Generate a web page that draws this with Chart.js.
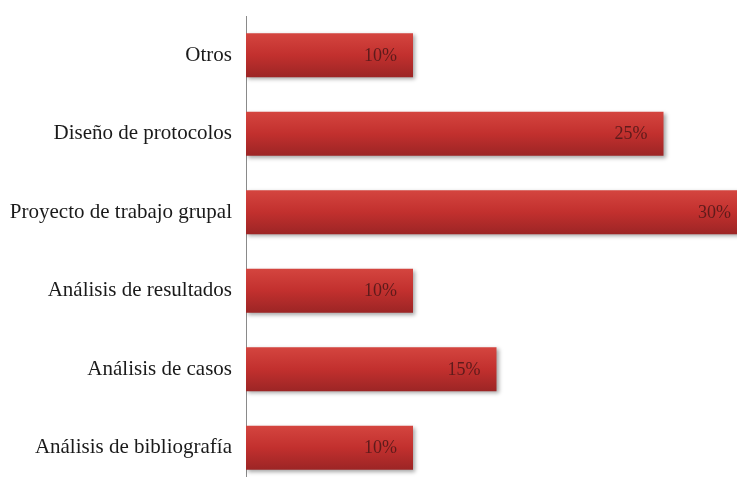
<!DOCTYPE html>
<html>
<head>
<meta charset="utf-8">
<script src="https://cdn.jsdelivr.net/npm/chart.js@4.4.1/dist/chart.umd.min.js"></script>
<style>
  html, body { margin: 0; padding: 0; background: #fff; overflow: hidden; }
  #bar_chart { position: absolute; left: 0; top: 0; }
</style>
</head>
<body>
<canvas id="bar_chart" width="747" height="490"></canvas>
<script>
const categories = ['Otros', 'Diseño de protocolos', 'Proyecto de trabajo grupal', 'Análisis de resultados', 'Análisis de casos', 'Análisis de bibliografía'];
const values = [10, 25, 30, 10, 15, 10];
const barPct = 0.56;

function barGradient(c) {
  const chart = c.chart;
  const y = chart.scales.y;
  const area = chart.chartArea;
  if (!y || !area || c.dataIndex === undefined) return '#c0302f';
  const center = y.getPixelForValue(c.dataIndex);
  const half = (area.bottom - area.top) / categories.length * barPct / 2;
  const g = chart.ctx.createLinearGradient(0, center - half, 0, center + half);
  g.addColorStop(0, '#d4453f');
  g.addColorStop(0.5, '#c2302e');
  g.addColorStop(1, '#9c2525');
  return g;
}

const shadow = {
  id: 'shadow',
  beforeDatasetsDraw(chart) {
    const ctx = chart.ctx;
    ctx.save();
    ctx.shadowColor = 'rgba(0,0,0,0.35)';
    ctx.shadowBlur = 4;
    ctx.shadowOffsetX = 2;
    ctx.shadowOffsetY = 2;
  },
  afterDatasetsDraw(chart) {
    chart.ctx.restore();
  }
};

// percentage text inside the end of each bar
const valueLabels = {
  id: 'valueLabels',
  afterDraw(chart) {
    const ctx = chart.ctx;
    ctx.save();
    ctx.font = '18px "Liberation Serif", serif';
    ctx.fillStyle = '#5e1b1b';
    ctx.textAlign = 'right';
    ctx.textBaseline = 'middle';
    chart.getDatasetMeta(0).data.forEach((bar, i) => {
      ctx.fillText(values[i] + '%', bar.x - 16, bar.y + 1);
    });
    ctx.restore();
  }
};

const config = {
  type: 'bar',
  data: {
    labels: categories,
    datasets: [
      {
        data: values,
        backgroundColor: barGradient,
        borderWidth: 0,
        barPercentage: barPct,
        categoryPercentage: 1
      }
    ]
  },
  options: {
    indexAxis: 'y',
    responsive: false,
    animation: false,
    layout: { padding: { top: 16, bottom: 3, left: 0, right: 0 } },
    plugins: {
      legend: { display: false },
      tooltip: { enabled: false }
    },
    scales: {
      x: { display: false, min: 0, max: 30 },
      y: {
        grid: { display: false, drawTicks: false },
        border: { display: true, color: '#8a8a8a', width: 1 },
        ticks: {
          color: '#1a1a1a',
          padding: 14,
          font: { family: '"Liberation Serif", serif', size: 21 }
        },
        afterFit(scale) {
          scale.width = 246;
          scale.paddingTop = 0;
          scale.paddingBottom = 0;
        }
      }
    }
  },
  plugins: [shadow, valueLabels]
};

document.addEventListener('DOMContentLoaded', () => {
  new Chart(document.getElementById('bar_chart').getContext('2d'), config);
});
</script>
</body>
</html>
